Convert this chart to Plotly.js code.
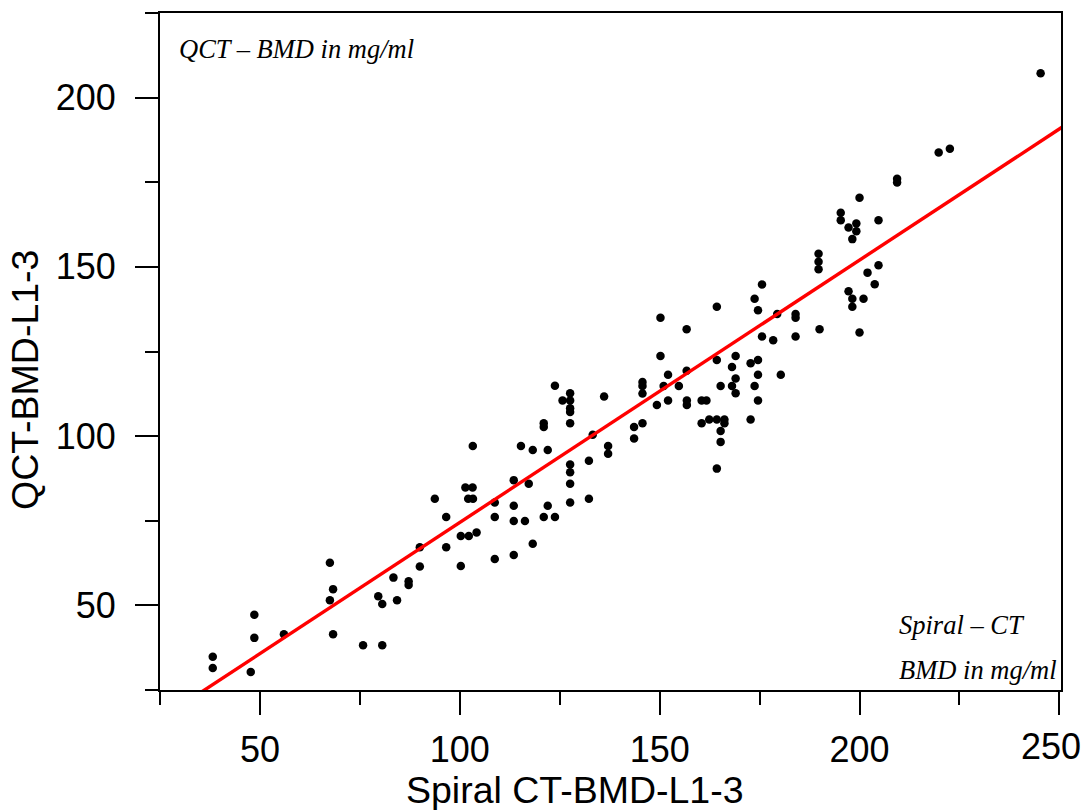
<!DOCTYPE html>
<html><head><meta charset="utf-8">
<script src="https://cdn.plot.ly/plotly-3.0.1.min.js"></script>
<style>html,body{margin:0;padding:0;background:#fff}</style>
</head><body><div id="chart" style="width:1086px;height:810px"></div>
<script>
// Spiral CT BMD (x) and QCT BMD (y), mg/ml
const spiralCT = [38.2,38.2,47.7,48.6,48.6,56.0,67.5,68.3,67.5,68.3,
  75.8,80.6,79.6,80.6,83.4,84.3,87.2,87.2,90.0,90.0,
  96.6,93.75,96.6,100.25,102.25,104.2,100.25,103.25,101.4,103.2,
  102.1,103.3,108.75,108.75,108.75,113.5,113.5,113.5,113.5,116.3,
  117.25,115.3,118.25,118.25,121.0,122.0,123.8,122.0,121.0,121.0,
  123.8,125.7,127.6,127.6,127.6,127.6,127.6,127.6,127.6,127.6,
  127.6,132.3,132.3,133.25,136.1,137.1,137.1,143.6,143.6,145.7,
  145.7,145.7,145.7,149.3,150.2,150.2,152.1,151.0,152.1,154.8,
  156.75,156.75,156.8,156.8,160.5,161.7,160.5,162.4,164.3,166.2,
  166.2,165.25,165.25,164.3,164.3,164.3,165.25,168.1,169.0,169.0,
  168.1,169.0,172.75,172.75,173.75,174.6,174.6,173.75,174.6,174.6,
  175.6,175.6,178.4,179.4,180.3,184.0,184.0,184.0,190.0,189.75,
  189.75,189.75,195.3,195.3,197.25,199.2,199.2,198.2,200.0,204.75,
  209.4,209.4,202.0,204.75,203.8,197.25,198.2,201.0,198.2,200.0,
  219.8,222.6,245.3];
const qctBMD = [34.8,31.5,30.3,47.2,40.4,41.5,62.6,54.8,51.5,41.5,
  38.2,38.2,52.7,50.4,58.2,51.5,57.1,56.0,67.2,61.5,
  67.2,81.5,76.1,70.5,70.5,71.5,61.6,97.1,84.8,84.8,
  81.5,81.5,80.4,76.1,63.7,87.0,79.4,74.9,64.9,74.9,
  85.9,97.1,95.9,68.2,76.1,79.4,76.1,95.9,103.8,102.7,
  114.9,110.5,112.7,110.5,108.2,107.1,103.8,91.6,89.3,85.9,
  80.4,92.7,81.5,100.4,111.7,97.1,94.8,102.7,99.3,103.8,
  116.0,114.8,112.6,109.2,135.0,123.7,118.1,114.8,110.5,114.8,
  131.6,119.3,110.5,109.2,110.5,110.5,103.8,104.9,104.9,104.9,
  103.8,101.5,98.3,90.4,138.2,122.5,114.8,120.4,123.7,117.0,
  114.8,112.7,121.5,104.9,140.6,137.2,122.5,114.8,118.1,110.5,
  144.8,129.4,128.3,136.1,118.1,136.1,135.0,129.4,131.6,153.9,
  151.5,149.3,166.0,163.8,161.6,162.8,160.5,158.2,170.4,163.8,
  176.0,174.9,148.3,150.5,144.9,142.8,140.6,140.6,138.2,130.6,
  183.8,184.9,207.2];
// regression line
const fitSlope = 0.775;
const fitIntercept = -3.0;
const fitXEnds = [25, 251];

const xTickVals = [50, 100, 150, 200, 250];
const yTickVals = [50, 100, 150, 200];

const fitY = fitXEnds.map(x => fitSlope * x + fitIntercept);

const W = 1086, H = 810;
const M = {l: 160, r: 25, t: 13, b: 120};
const pw = W - M.l - M.r, ph = H - M.t - M.b;
const px = p => (p - M.l) / pw;
const py = p => (H - M.b - p) / ph;

const sans = 'Liberation Sans, Arial, Helvetica, sans-serif';
const serif = 'Liberation Serif, Times New Roman, serif';

const traces = [
  {x: spiralCT, y: qctBMD, type: 'scatter', mode: 'markers',
   marker: {color: '#000', size: 8.5, line: {width: 0}}, cliponaxis: false, showlegend: false},
  {x: fitXEnds, y: fitY, type: 'scatter', mode: 'lines',
   line: {color: '#ff0000', width: 3.4}, showlegend: false}
];

const axisCommon = {
  showgrid: false, zeroline: false, showline: true, linecolor: '#000', linewidth: 2,
  mirror: true, ticks: 'outside', ticklen: 23, tickwidth: 2, tickcolor: '#000',
  ticklabeloverflow: 'allow',
  tickfont: {family: sans, size: 36, color: '#000'},
  minor: {ticks: 'outside', ticklen: 13, tickwidth: 2, tickcolor: '#000', dtick: 25, tick0: 0, showgrid: false}
};

// the last x label sits shifted left so that it fits inside the figure, as in the reference
const lastX = xTickVals[xTickVals.length - 1];
const xTickText = xTickVals.map(v => v === lastX ? '' : String(v));

const layout = {
  width: W, height: H, margin: M,
  paper_bgcolor: '#fff', plot_bgcolor: '#fff',
  xaxis: Object.assign({}, axisCommon, {range: [25, 250.4], tickmode: 'array', tickvals: xTickVals, ticktext: xTickText, ticklabelstandoff: 4}),
  yaxis: Object.assign({}, axisCommon, {range: [25, 225], tickmode: 'array', tickvals: yTickVals, ticktext: yTickVals.map(String), ticklabelstandoff: 12}),
  annotations: [
    {text: String(lastX), xref: 'paper', yref: 'paper', x: px(1083), y: py(747), xanchor: 'right', yanchor: 'middle', showarrow: false, font: {family: sans, size: 36, color: '#000'}},
    {text: 'Spiral CT-BMD-L1-3', xref: 'paper', yref: 'paper', x: px(575), y: py(790), xanchor: 'center', yanchor: 'middle', showarrow: false, font: {family: sans, size: 37.5, color: '#000'}},
    {text: 'QCT-BMD-L1-3', xref: 'paper', yref: 'paper', x: px(25), y: py(380), xanchor: 'center', yanchor: 'middle', textangle: -90, showarrow: false, font: {family: sans, size: 37.5, color: '#000'}},
    {text: '<i>QCT – BMD in mg/ml</i>', xref: 'paper', yref: 'paper', x: px(177), y: py(49), xanchor: 'left', yanchor: 'middle', showarrow: false, font: {family: serif, size: 26.5, color: '#000'}},
    {text: '<i>Spiral – CT</i>', xref: 'paper', yref: 'paper', x: px(897), y: py(625), xanchor: 'left', yanchor: 'middle', showarrow: false, font: {family: serif, size: 26.5, color: '#000'}},
    {text: '<i>BMD in mg/ml</i>', xref: 'paper', yref: 'paper', x: px(897), y: py(670), xanchor: 'left', yanchor: 'middle', showarrow: false, font: {family: serif, size: 26.5, color: '#000'}}
  ]
};

Plotly.newPlot('chart', traces, layout, {staticPlot: true, displayModeBar: false});
</script>
</body></html>
